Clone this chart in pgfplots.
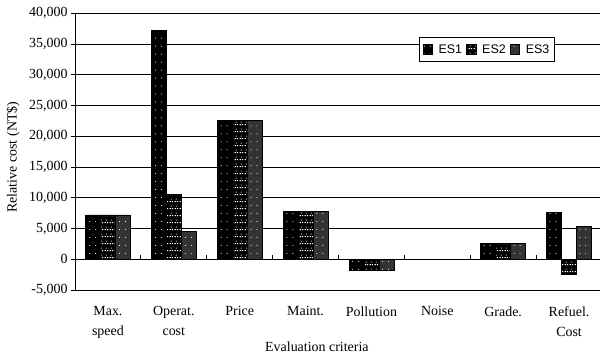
\documentclass[border=0pt]{standalone}
\usepackage{pgfplots}
\pgfplotsset{compat=1.18}
\usepackage{fontspec}
\setmainfont{Liberation Serif}
\newfontfamily\arial{Liberation Sans}
\usetikzlibrary{patterns}

\pgfdeclarepatternformonly{sparsedots}{\pgfqpoint{-1pt}{-1pt}}{\pgfqpoint{1pt}{1pt}}{\pgfqpoint{6pt}{8pt}}{%
  \pgfpathcircle{\pgfqpoint{0pt}{0pt}}{0.55pt}\pgfusepath{fill}}
\pgfdeclarepatternformonly{dashrows}{\pgfqpoint{0pt}{0pt}}{\pgfqpoint{5pt}{7pt}}{\pgfqpoint{5pt}{7pt}}{%
  \pgfpathrectangle{\pgfqpoint{0.6pt}{2pt}}{\pgfqpoint{1.2pt}{0.8pt}}%
  \pgfpathrectangle{\pgfqpoint{3pt}{2pt}}{\pgfqpoint{1.2pt}{0.8pt}}%
  \pgfpathrectangle{\pgfqpoint{1.8pt}{4.5pt}}{\pgfqpoint{0.8pt}{0.8pt}}%
  \pgfusepath{fill}}
\definecolor{esthree}{HTML}{333333}

\begin{document}
\begin{tikzpicture}
\useasboundingbox (0,0) rectangle (600bp,357bp);
\begin{axis}[
  at={(75bp,67bp)}, anchor=south west,
  scale only axis, width=527bp, height=276.7bp,
  xmin=-0.5, xmax=7.5, ymin=-5000, ymax=40000,
  axis x line=bottom, axis y line=left,
  axis line style={-, line width=0.9bp},
  ybar=0pt, bar width=0.227,
  xtick={0,...,7},
  xticklabels={{Max.\\speed},{Operat.\\cost},Price,Maint.,Pollution,Noise,Grade.,{Refuel.\\Cost}},
  xticklabel style={align=center, yshift=-9bp, font=\fontsize{14}{20}\selectfont},
  xtick style={draw=none},
  ytick={-5000,0,...,40000},
  ytick style={line width=0.8bp, black},
  tick align=outside, major tick length=4bp,
  yticklabel style={font=\fontsize{14}{16}\selectfont},
  /pgf/number format/assume math mode=true,
  /pgf/number format/1000 sep={,},
  scaled y ticks=false,
  ymajorgrids, grid style={line width=0.8bp, black},
  xlabel={Evaluation criteria},
  xlabel style={at={(axis description cs:0.459,-0.206)}, anchor=center, font=\fontsize{14}{16}\selectfont},
  ylabel={Relative cost (NT\$)},
  ylabel style={at={(axis description cs:-0.1177,0.48)}, anchor=center, font=\fontsize{14}{16}\selectfont},
  legend style={at={(0.653,0.914)}, anchor=north west, legend columns=3,
    font=\arial\fontsize{12.5}{14}\selectfont, draw=black, line width=0.8bp,
    inner ysep=5bp, inner xsep=3bp,
    /tikz/every odd column/.append style={column sep=4bp},
    /tikz/every even column/.append style={column sep=2bp}},
  legend image code/.code={\draw[#1, line width=0.6bp] (0bp,-4.5bp) rectangle (9.5bp,5bp);},
]
\addplot[draw=black, line width=0.6bp, fill=black, postaction={pattern=sparsedots, pattern color=white}]
  coordinates {(0,7200) (1,37200) (2,22600) (3,7800) (4,-1850) (5,0) (6,2600) (7,7650)};
\addplot[draw=black, line width=0.6bp, fill=black, postaction={pattern=dashrows, pattern color=white}]
  coordinates {(0,7200) (1,10600) (2,22600) (3,7800) (4,-1850) (5,0) (6,2600) (7,-2400)};
\addplot[draw=black, line width=0.6bp, fill=esthree, postaction={pattern=sparsedots, pattern color=white}]
  coordinates {(0,7200) (1,4500) (2,22600) (3,7800) (4,-1850) (5,0) (6,2600) (7,5300)};
\legend{ES1,ES2,ES3}
\end{axis}
\begin{axis}[
  at={(75bp,67bp)}, anchor=south west,
  scale only axis, width=527bp, height=276.7bp,
  xmin=-0.5, xmax=7.5, ymin=-5000, ymax=40000,
  axis x line=middle, axis y line=none,
  axis line style={-, line width=0.8bp},
  xtick={0.5,1.5,...,6.5}, xticklabels={},
  ytick=\empty,
  tick align=center, major tick length=4bp,
  xtick style={line width=0.8bp, black, yshift=2bp},
]
\end{axis}
\end{tikzpicture}
\end{document}
